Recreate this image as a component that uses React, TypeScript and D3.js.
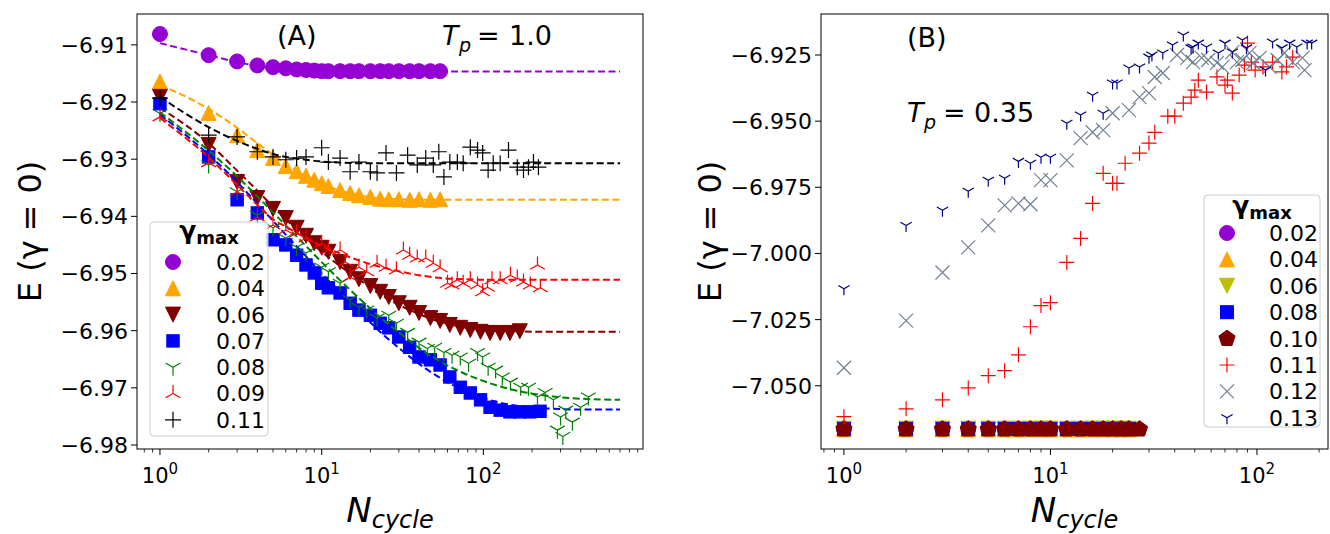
import React from "react";
import * as d3 from "d3";

// ---------------- Panel A data (T_p = 1.0) ----------------
const A_N_002 = [1,2,3,4,5,6,7,8,9,10,11,13,15,17,20,23,26,30,35,40,47,54];
const A_E_002 = [-6.9081,-6.9118,-6.9129,-6.9136,-6.9139,-6.9141,-6.9143,-6.9144,-6.9145,-6.9146,-6.9146,-6.9146,-6.9146,-6.9146,-6.9146,-6.9146,-6.9146,-6.9146,-6.9146,-6.9146,-6.9146,-6.9146];

const A_N_004 = [1,2,3,4,5,6,7,8,9,10,11,13,15,17,20,23,26,30,35,40,47,54];
const A_E_004 = [-6.9164,-6.9219,-6.9258,-6.9284,-6.9298,-6.9312,-6.9321,-6.9329,-6.9336,-6.9342,-6.9347,-6.9354,-6.9359,-6.9363,-6.9366,-6.9369,-6.9370,-6.9370,-6.9371,-6.9370,-6.9371,-6.9370];

const A_N_006 = [1,2,3,4,5,6,7,8,9,10,11,13,15,17,20,23,26,30,35,40,47,54,62,72,83,96,110,127,146,168];
const A_E_006 = [-6.9191,-6.9275,-6.9340,-6.9368,-6.9387,-6.9403,-6.9420,-6.9434,-6.9447,-6.9455,-6.9462,-6.9480,-6.9497,-6.9510,-6.9522,-6.9532,-6.9541,-6.9552,-6.9560,-6.9569,-6.9578,-6.9583,-6.9590,-6.9595,-6.9599,-6.9602,-6.9604,-6.9604,-6.9604,-6.9601];

const A_N_007 = [1,2,3,4,5,6,7,8,9,10,11,13,15,17,20,23,26,30,35,40,47,54,62,72,83,96,110,127,146,168,194,224];
const A_E_007 = [-6.9203,-6.9296,-6.9371,-6.9394,-6.9441,-6.9450,-6.9468,-6.9485,-6.9499,-6.9517,-6.9525,-6.9534,-6.9552,-6.9564,-6.9573,-6.9587,-6.9595,-6.9611,-6.9629,-6.9646,-6.9651,-6.9660,-6.9681,-6.9699,-6.9709,-6.9721,-6.9734,-6.9739,-6.9742,-6.9742,-6.9742,-6.9741];

const A_N_008 = [1,2,3,4,5,6,7,8,10,11,13,15,17,19,22,26,29,34,40,45,50,57,64,72,81,92,99,107,119,131,147,170,190,216,241,271,287,300,310,323,355,399,446];
const A_E_008 = [-6.9220,-6.9310,-6.9357,-6.9398,-6.9420,-6.9438,-6.9454,-6.9464,-6.9489,-6.9497,-6.9517,-6.9546,-6.9559,-6.9564,-6.9578,-6.9573,-6.9587,-6.9603,-6.9620,-6.9631,-6.9629,-6.9638,-6.9643,-6.9646,-6.9657,-6.9638,-6.9646,-6.9664,-6.9669,-6.9681,-6.9690,-6.9699,-6.9699,-6.9716,-6.9708,-6.9721,-6.9774,-6.9751,-6.9785,-6.9739,-6.9760,-6.9734,-6.9716];

const A_N_009 = [1,2,3,4,5,6,7,8,10,11,13,14,15,17,19,22,25,29,32,35,39,44,49,54,60,64,69,75,83,92,99,106,113,127,147,162,177,195,216,225];
const A_E_009 = [-6.9226,-6.9306,-6.9357,-6.9401,-6.9415,-6.9424,-6.9429,-6.9438,-6.9447,-6.9459,-6.9459,-6.9480,-6.9506,-6.9489,-6.9497,-6.9482,-6.9489,-6.9494,-6.9459,-6.9468,-6.9473,-6.9473,-6.9482,-6.9490,-6.9517,-6.9520,-6.9511,-6.9517,-6.9511,-6.9520,-6.9532,-6.9524,-6.9511,-6.9511,-6.9503,-6.9508,-6.9515,-6.9520,-6.9485,-6.9525];

const A_N_011 = [1,2,3,4,5,6,7,8,10,11,13,15,17,20,22,25,29,34,39,44,49,53,57,62,69,75,83,92,99,107,115,127,143,162,177,190,204,219];
const A_E_011 = [-6.9193,-6.9258,-6.9261,-6.9287,-6.9296,-6.9301,-6.9298,-6.9296,-6.9280,-6.9305,-6.9298,-6.9322,-6.9305,-6.9322,-6.9324,-6.9289,-6.9324,-6.9293,-6.9310,-6.9298,-6.9310,-6.9287,-6.9331,-6.9305,-6.9305,-6.9307,-6.9279,-6.9284,-6.9289,-6.9319,-6.9307,-6.9307,-6.9284,-6.9314,-6.9319,-6.9314,-6.9305,-6.9314];

// dashed fit curves (panel A)
const FIT_N = [1,2,3,4,5,6,8,10,13,17,22,30,40,55,75,100,150,250,400,700];
const FIT_002 = [-6.9097,-6.9118,-6.9130,-6.9137,-6.9141,-6.9143,-6.9145,-6.9146,-6.91465,-6.91465,-6.91465,-6.91465,-6.91465,-6.91465,-6.91465,-6.91465,-6.91465,-6.91465,-6.91465,-6.91465];
const FIT_004 = [-6.9170,-6.9212,-6.9245,-6.9272,-6.9292,-6.9308,-6.9330,-6.9343,-6.9355,-6.9363,-6.9368,-6.9370,-6.9371,-6.9371,-6.9371,-6.9371,-6.9371,-6.9371,-6.9371,-6.9371];
const FIT_006 = [-6.9210,-6.9272,-6.9320,-6.9355,-6.9383,-6.9405,-6.9438,-6.9462,-6.9487,-6.9510,-6.9533,-6.9555,-6.9571,-6.9585,-6.9594,-6.9599,-6.9601,-6.9602,-6.9602,-6.9602];
const FIT_007 = [-6.9222,-6.9292,-6.9340,-6.9378,-6.9408,-6.9432,-6.9470,-6.9500,-6.9532,-6.9565,-6.9597,-6.9630,-6.9658,-6.9684,-6.9704,-6.9718,-6.9730,-6.9736,-6.9738,-6.9738];
const FIT_008 = [-6.9218,-6.9285,-6.9330,-6.9365,-6.9393,-6.9416,-6.9452,-6.9480,-6.9512,-6.9543,-6.9572,-6.9603,-6.9630,-6.9655,-6.9674,-6.9688,-6.9703,-6.9714,-6.9719,-6.9721];
const FIT_009 = [-6.9228,-6.9297,-6.9345,-6.9380,-6.9405,-6.9418,-6.9438,-6.9452,-6.9465,-6.9477,-6.9487,-6.9496,-6.9503,-6.9508,-6.9510,-6.9511,-6.9511,-6.9511,-6.9511,-6.9511];
const FIT_011 = [-6.9191,-6.9244,-6.9268,-6.9282,-6.9291,-6.9296,-6.9301,-6.9304,-6.9306,-6.9307,-6.9307,-6.9307,-6.9307,-6.9307,-6.9307,-6.9307,-6.9307,-6.9307,-6.9307,-6.9307];

// ---------------- Panel B data (T_p = 0.35) ----------------
const B_N_LOW = [1,2,3,4,5,6,7,8,9,10,12,14,16,18,20,22,24];
const B_E_002 = [-7.0663,-7.0663,-7.0663,-7.0663,-7.0663,-7.0663,-7.0663,-7.0663,-7.0663,-7.0663,-7.0663,-7.0663,-7.0663,-7.0663,-7.0663,-7.0663,-7.0663];
const B_E_004 = [-7.0665,-7.0665,-7.0665,-7.0665,-7.0665,-7.0665,-7.0665,-7.0665,-7.0665,-7.0665,-7.0665,-7.0665,-7.0665,-7.0665,-7.0665,-7.0665,-7.0665];
const B_E_006 = [-7.0662,-7.0662,-7.0662,-7.0662,-7.0662,-7.0662,-7.0662,-7.0662,-7.0662,-7.0662,-7.0662,-7.0662,-7.0662,-7.0662,-7.0662,-7.0662,-7.0662];
const B_E_008 = [-7.0663,-7.0663,-7.0663,-7.0663,-7.0663,-7.0663,-7.0663,-7.0663,-7.0663,-7.0663,-7.0663,-7.0663,-7.0663,-7.0663,-7.0663,-7.0663,-7.0663];
const B_N_010 = [1,2,3,4,5,6,7,8,9,10,12,14,16,18,20,22,24,27];
const B_E_010 = [-7.0664,-7.0664,-7.0664,-7.0664,-7.0664,-7.0664,-7.0664,-7.0664,-7.0664,-7.0664,-7.0664,-7.0664,-7.0664,-7.0664,-7.0664,-7.0664,-7.0664,-7.0664];

const B_N_011 = [1,2,3,4,5,6,7,8,9,10,12,14,16,18,20,21,23,27,30,32,37,40,44,48,50,52,57,64,70,72,76,82,87,90,94,98,107,119,132,139,149];
const B_E_011 = [-7.0617,-7.0587,-7.0553,-7.0508,-7.0462,-7.0443,-7.0383,-7.0277,-7.0197,-7.0186,-7.0034,-6.9943,-6.9811,-6.9697,-6.9735,-6.9735,-6.9659,-6.9621,-6.9583,-6.9542,-6.9481,-6.9481,-6.9432,-6.9409,-6.9383,-6.9345,-6.9390,-6.9333,-6.9364,-6.9345,-6.9394,-6.9326,-6.9288,-6.9205,-6.9277,-6.9307,-6.9295,-6.9277,-6.9314,-6.9295,-6.9258];

const B_N_012 = [1,2,3,4,5,6,7,8,9,10,12,14,16,18,20,24,27,30,32,35,41,46,49,54,58,64,68,76,80,85,92,96,103,115,126,136,149,166,170];
const B_E_012 = [-7.0432,-7.0254,-7.0072,-6.9977,-6.9894,-6.9818,-6.9811,-6.9814,-6.9723,-6.9723,-6.9648,-6.9564,-6.9542,-6.9534,-6.9470,-6.9458,-6.9409,-6.9394,-6.9333,-6.9318,-6.9250,-6.9261,-6.9277,-6.9261,-6.9269,-6.9280,-6.9295,-6.9239,-6.9277,-6.9269,-6.9242,-6.9280,-6.9261,-6.9295,-6.9269,-6.9242,-6.9277,-6.9261,-6.9307];

const B_N_013 = [1,2,3,4,5,6,7,8,9,10,12,14,16,18,20,21,24,27,30,31,35,39,44,48,49,52,57,65,70,76,85,89,110,119,132,144,156,175,184];
const B_E_013 = [-7.0133,-6.9894,-6.9837,-6.9765,-6.9723,-6.9716,-6.9652,-6.9659,-6.9636,-6.9636,-6.9508,-6.9477,-6.9402,-6.9470,-6.9356,-6.9356,-6.9299,-6.9295,-6.9258,-6.9250,-6.9242,-6.9212,-6.9174,-6.9223,-6.9220,-6.9205,-6.9220,-6.9242,-6.9205,-6.9239,-6.9193,-6.9223,-6.9307,-6.9201,-6.9223,-6.9205,-6.9220,-6.9205,-6.9205];

// ---------------- ticks / labels ----------------
const A_YTICKS = [-6.98,-6.97,-6.96,-6.95,-6.94,-6.93,-6.92,-6.91];
const B_YTICKS = [-7.05,-7.025,-7.0,-6.975,-6.95,-6.925];
const X_MAJOR = [1,10,100];
const X_EXP = ["0","1","2"];
const A_LEGEND = ["0.02","0.04","0.06","0.07","0.08","0.09","0.11"];
const B_LEGEND = ["0.02","0.04","0.06","0.08","0.10","0.11","0.12","0.13"];

const FONT = "DejaVu Sans, Liberation Sans, sans-serif";

type Mk = "o" | "^" | "v" | "s" | "p" | "+" | "x" | "1" | "2";

function marker(type: Mk, color: string, cx: number, cy: number, s: number, key: string | number) {
  const lw = 1.2;
  switch (type) {
    case "o":
      return <circle key={key} cx={cx} cy={cy} r={s} fill={color} stroke={color} strokeWidth={1} />;
    case "^":
      return <path key={key} d={`M${cx},${cy - s}L${cx - s},${cy + s}L${cx + s},${cy + s}Z`} fill={color} stroke={color} strokeWidth={1} />;
    case "v":
      return <path key={key} d={`M${cx},${cy + s}L${cx - s},${cy - s}L${cx + s},${cy - s}Z`} fill={color} stroke={color} strokeWidth={1} />;
    case "s":
      return <rect key={key} x={cx - s} y={cy - s} width={2 * s} height={2 * s} fill={color} stroke={color} strokeWidth={1} />;
    case "p": {
      const pts = d3.range(5).map((k) => {
        const a = -Math.PI / 2 + (k * 2 * Math.PI) / 5;
        return `${cx + s * Math.cos(a)},${cy + s * Math.sin(a)}`;
      });
      return <path key={key} d={`M${pts.join("L")}Z`} fill={color} stroke={color} strokeWidth={1} />;
    }
    case "+":
      return <path key={key} d={`M${cx - s},${cy}H${cx + s}M${cx},${cy - s}V${cy + s}`} stroke={color} strokeWidth={lw} fill="none" />;
    case "x":
      return <path key={key} d={`M${cx - s},${cy - s}L${cx + s},${cy + s}M${cx - s},${cy + s}L${cx + s},${cy - s}`} stroke={color} strokeWidth={lw} fill="none" />;
    case "1":
      return <path key={key} d={`M${cx},${cy}V${cy + s}M${cx},${cy}L${cx - 0.866 * s},${cy - 0.5 * s}M${cx},${cy}L${cx + 0.866 * s},${cy - 0.5 * s}`} stroke={color} strokeWidth={lw} fill="none" />;
    case "2":
      return <path key={key} d={`M${cx},${cy}V${cy - s}M${cx},${cy}L${cx - 0.866 * s},${cy + 0.5 * s}M${cx},${cy}L${cx + 0.866 * s},${cy + 0.5 * s}`} stroke={color} strokeWidth={lw} fill="none" />;
  }
}

interface Series { n: number[]; e: number[]; color: string; mk: Mk; size: number; fit?: number[] }

const A_SERIES: Series[] = [
  { n: A_N_002, e: A_E_002, color: "#9400d3", mk: "o", size: 7.5, fit: FIT_002 },
  { n: A_N_004, e: A_E_004, color: "#ffa500", mk: "^", size: 7.5, fit: FIT_004 },
  { n: A_N_006, e: A_E_006, color: "#800000", mk: "v", size: 7.5, fit: FIT_006 },
  { n: A_N_007, e: A_E_007, color: "#0000ff", mk: "s", size: 6.2, fit: FIT_007 },
  { n: A_N_008, e: A_E_008, color: "#008000", mk: "1", size: 8.5, fit: FIT_008 },
  { n: A_N_009, e: A_E_009, color: "#ff0000", mk: "2", size: 8.5, fit: FIT_009 },
  { n: A_N_011, e: A_E_011, color: "#000000", mk: "+", size: 8, fit: FIT_011 },
];

const B_SERIES: Series[] = [
  { n: B_N_LOW, e: B_E_002, color: "#9400d3", mk: "o", size: 7.5 },
  { n: B_N_LOW, e: B_E_004, color: "#ffa500", mk: "^", size: 7.5 },
  { n: B_N_LOW, e: B_E_006, color: "#bfbf00", mk: "v", size: 7.5 },
  { n: B_N_LOW, e: B_E_008, color: "#0000ff", mk: "s", size: 6.5 },
  { n: B_N_010, e: B_E_010, color: "#800000", mk: "p", size: 8.5 },
  { n: B_N_011, e: B_E_011, color: "#ff0000", mk: "+", size: 7.5 },
  { n: B_N_012, e: B_E_012, color: "#708090", mk: "x", size: 7 },
  { n: B_N_013, e: B_E_013, color: "#000080", mk: "1", size: 6.5 },
];

interface PanelGeom { left: number; right: number; top: number; bottom: number }

function Panel(props: {
  g: PanelGeom; xDom: [number, number]; yDom: [number, number]; yTicks: number[]; yDec: number;
  series: Series[]; legend: string[]; legendBox: { x: number; y: number; w: number; h: number; titleY: number; row0: number; step: number; mkX: number; txtX: number };
  yLabelX: number;
}) {
  const { g, xDom, yDom, yTicks, yDec, series, legend, legendBox: L, yLabelX } = props;
  const x = d3.scaleLog().domain(xDom).range([g.left, g.right]);
  const y = d3.scaleLinear().domain(yDom).range([g.bottom, g.top]);
  const line = d3.line<[number, number]>().x((d) => x(d[0])).y((d) => y(d[1])).curve(d3.curveMonotoneX);

  const minors: number[] = [];
  for (let k = -1; k <= 3; k++) for (let m = 2; m <= 9; m++) {
    const v = m * Math.pow(10, k);
    if (v >= xDom[0] && v <= xDom[1]) minors.push(v);
  }
  const majors = X_MAJOR.filter((v) => v >= xDom[0] && v <= xDom[1]);
  const fmt = (v: number) => "\u2212" + Math.abs(v).toFixed(yDec);
  const clipId = `clip${g.left}`;

  return (
    <g>
      <defs>
        <clipPath id={clipId}><rect x={g.left} y={g.top} width={g.right - g.left} height={g.bottom - g.top} /></clipPath>
      </defs>
      <g clipPath={`url(#${clipId})`}>
        {series.map((s, si) => (
          <g key={si}>
            {s.n.map((nv, i) => marker(s.mk, s.color, x(nv), y(s.e[i]), s.size, i))}
            {s.fit && (
              <path d={line(FIT_N.map((nv, i) => [nv, s.fit![i]] as [number, number])) || ""} fill="none" stroke={s.color} strokeWidth={2} strokeDasharray="7,3.5" />
            )}
          </g>
        ))}
      </g>
      {/* frame */}
      <rect x={g.left} y={g.top} width={g.right - g.left} height={g.bottom - g.top} fill="none" stroke="#000" strokeWidth={1} />
      {/* x ticks */}
      {minors.map((v, i) => <line key={"mi" + i} x1={x(v)} x2={x(v)} y1={g.bottom} y2={g.bottom + 3.5} stroke="#000" strokeWidth={0.8} />)}
      {majors.map((v, i) => (
        <g key={"ma" + i}>
          <line x1={x(v)} x2={x(v)} y1={g.bottom} y2={g.bottom + 6} stroke="#000" strokeWidth={1} />
          <text x={x(v)} y={g.bottom + 34} textAnchor="middle" fontFamily={FONT} fontSize={21}>
            10<tspan fontSize={15} dy={-9}>{X_EXP[X_MAJOR.indexOf(v)]}</tspan>
          </text>
        </g>
      ))}
      {/* y ticks */}
      {yTicks.map((v, i) => (
        <g key={"yt" + i}>
          <line x1={g.left - 6} x2={g.left} y1={y(v)} y2={y(v)} stroke="#000" strokeWidth={1} />
          <text x={g.left - 9} y={y(v)} dy="0.36em" textAnchor="end" fontFamily={FONT} fontSize={22}>{fmt(v)}</text>
        </g>
      ))}
      {/* axis labels */}
      <text transform={`translate(${yLabelX},${(g.top + g.bottom) / 2}) rotate(-90)`} textAnchor="middle" dy="0.36em" fontFamily={FONT} fontSize={32}>
        E (γ<tspan dx={9}>=</tspan><tspan dx={11}>0</tspan>)
      </text>
      <text x={(g.left + g.right) / 2} y={522} textAnchor="middle" fontFamily={FONT} fontStyle="italic">
        <tspan fontSize={34}>N</tspan><tspan fontSize={24} dy={6}>cycle</tspan>
      </text>
      {/* legend */}
      <rect x={L.x} y={L.y} width={L.w} height={L.h} rx={4} ry={4} fill="#ffffff" fillOpacity={0.8} stroke="#cccccc" strokeWidth={1} />
      <text x={L.x + L.w / 2} y={L.titleY} textAnchor="middle" fontFamily={FONT} fontWeight="bold">
        <tspan fontSize={25}>γ</tspan><tspan fontSize={18} dy={5}>max</tspan>
      </text>
      {legend.map((lab, i) => {
        const s = series[i];
        const cy = L.row0 + i * L.step;
        return (
          <g key={"lg" + i}>
            {marker(s.mk, s.color, L.mkX, cy, s.size, "m")}
            <text x={L.txtX} y={cy} dy="0.36em" textAnchor="end" fontFamily={FONT} fontSize={22}>{lab}</text>
          </g>
        );
      })}
    </g>
  );
}

export default function App() {
  return (
    <svg width={1330} height={534} viewBox="0 0 1330 534" style={{ position: "absolute", left: 0, top: 0, background: "#fff" }}>
      <rect x={0} y={0} width={1330} height={534} fill="#fff" />
      <Panel
        g={{ left: 137, right: 643, top: 14, bottom: 449 }}
        xDom={[Math.pow(10, -0.142), Math.pow(10, 2.987)]}
        yDom={[-6.9807, -6.9046]}
        yTicks={A_YTICKS}
        yDec={2}
        series={A_SERIES}
        legend={A_LEGEND}
        legendBox={{ x: 150, y: 222, w: 118, h: 214, titleY: 239, row0: 262, step: 26.3, mkX: 173, txtX: 265 }}
        yLabelX={29}
      />
      <Panel
        g={{ left: 821, right: 1328, top: 14, bottom: 449 }}
        xDom={[Math.pow(10, -0.111), Math.pow(10, 2.344)]}
        yDom={[-7.0739, -6.9095]}
        yTicks={B_YTICKS}
        yDec={3}
        series={B_SERIES}
        legend={B_LEGEND}
        legendBox={{ x: 1204, y: 195, w: 116, h: 232, titleY: 214, row0: 233, step: 26.4, mkX: 1227, txtX: 1318 }}
        yLabelX={709}
      />
      {/* annotations */}
      <text x={277} y={45} fontFamily={FONT} fontSize={27}>(A)</text>
      <text fontFamily={FONT} fontSize={27}>
        <tspan x={442} y={45} fontStyle="italic">T</tspan>
        <tspan x={459} y={52} fontSize={19} fontStyle="italic">p</tspan>
        <tspan x={477} y={45}>=</tspan>
        <tspan x={509} y={45}>1.0</tspan>
      </text>
      <text x={907} y={47} fontFamily={FONT} fontSize={27}>(B)</text>
      <text fontFamily={FONT} fontSize={27}>
        <tspan x={907} y={122} fontStyle="italic">T</tspan>
        <tspan x={924} y={129} fontSize={19} fontStyle="italic">p</tspan>
        <tspan x={943} y={122}>=</tspan>
        <tspan x={974} y={122}>0.35</tspan>
      </text>
    </svg>
  );
}
